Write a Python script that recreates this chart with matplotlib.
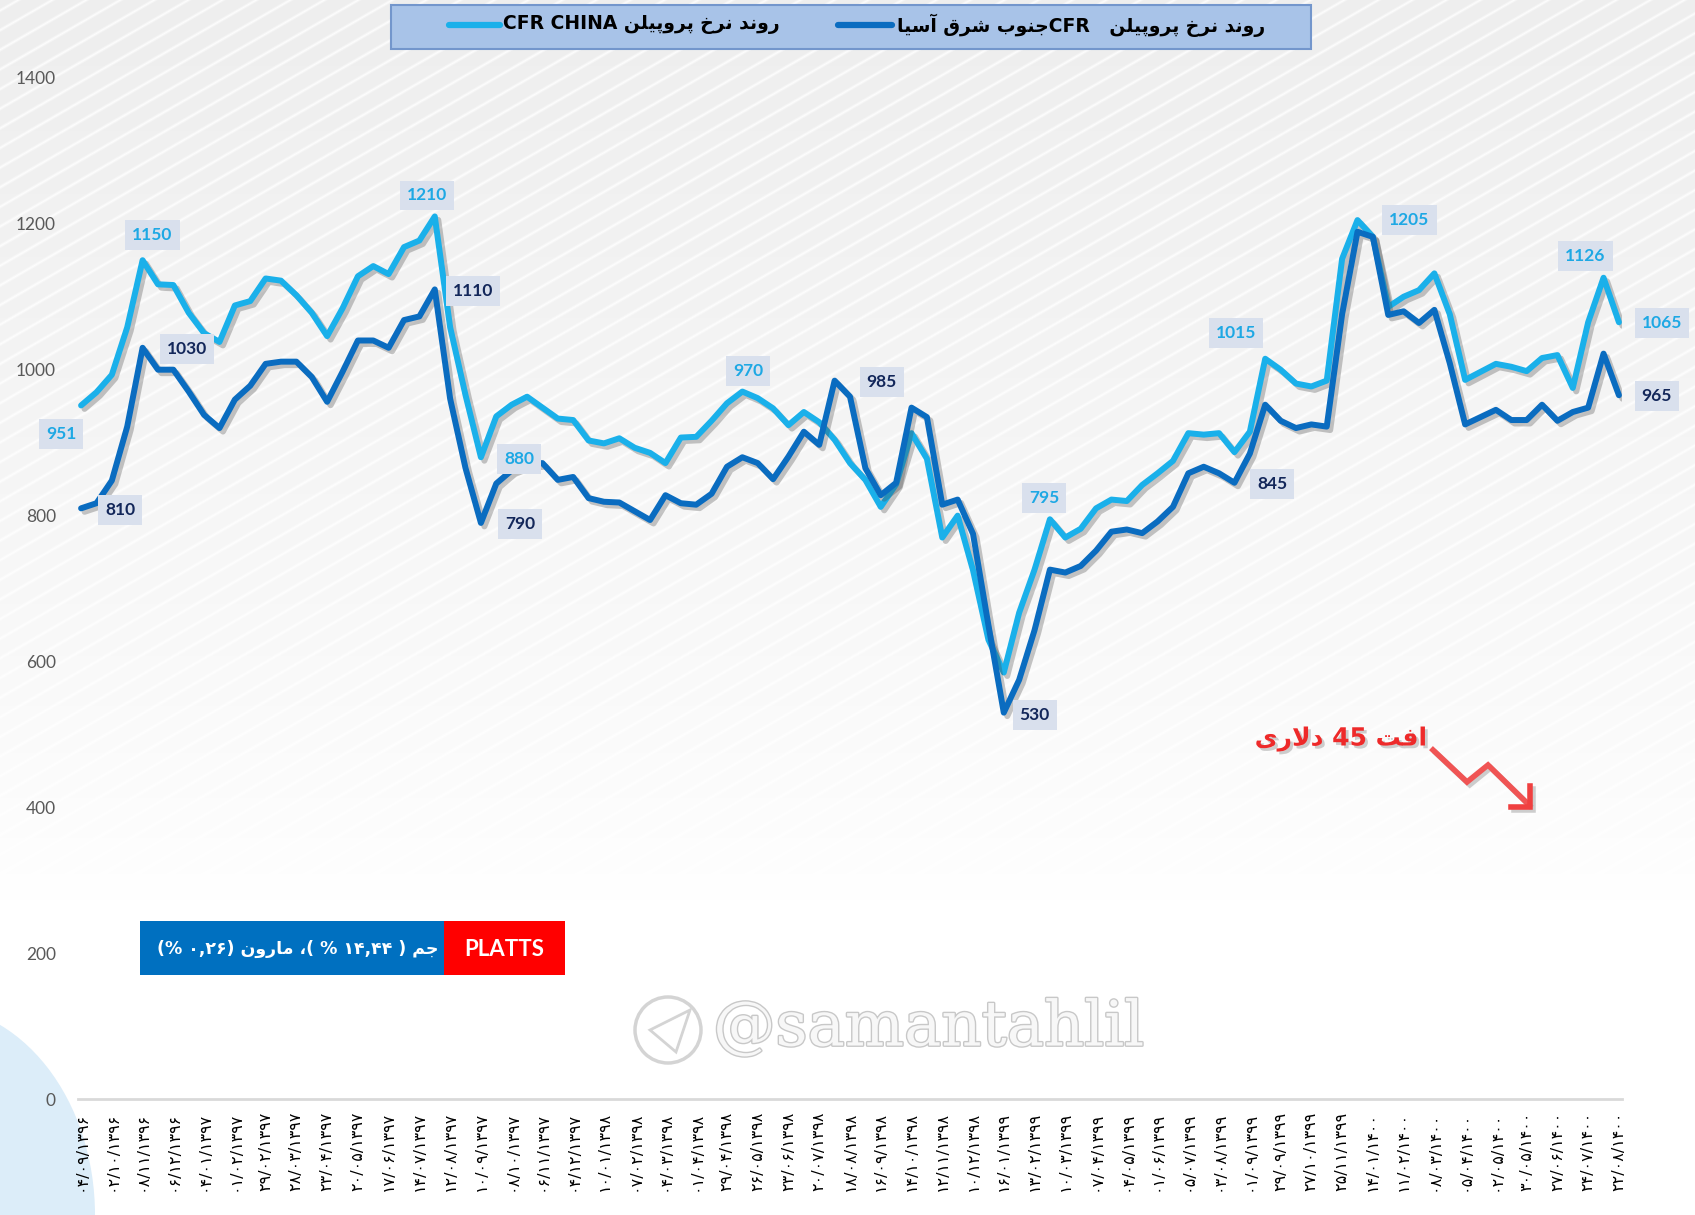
import numpy as np
import matplotlib
matplotlib.use('Agg')
import matplotlib.pyplot as plt
import matplotlib.patheffects as pe
from matplotlib.patches import Rectangle, Circle, Polygon, Ellipse

# data ----------------------------------------------------------------------

# CFR China propylene, USD/t (weekly)
china = [
    951, 969, 993, 1058, 1150, 1117, 1116, 1078, 1050, 1038,
    1088, 1094, 1125, 1122, 1102, 1078, 1046, 1084, 1128, 1142,
    1131, 1168, 1177, 1210, 1058, 965, 880, 936, 952, 963,
    948, 933, 931, 903, 899, 906, 893, 886, 872, 907,
    908, 930, 954, 970, 961, 947, 924, 942, 928, 904,
    872, 849, 812, 843, 913, 878, 770, 800, 725, 630,
    585, 667, 726, 795, 770, 782, 810, 822, 820, 842,
    858, 875, 913, 911, 913, 887, 915, 1015, 1000, 981,
    977, 985, 1152, 1205, 1182, 1086, 1100, 1109, 1132, 1076,
    986, 997, 1008, 1004, 998, 1016, 1020, 975, 1065, 1126,
    1065]

# CFR South-East Asia propylene, USD/t (weekly)
asia = [
    810, 817, 848, 922, 1030, 1000, 1000, 970, 938, 920,
    959, 978, 1008, 1011, 1011, 990, 956, 997, 1040, 1040,
    1030, 1068, 1073, 1110, 960, 865, 790, 844, 862, 870,
    872, 849, 853, 824, 819, 818, 806, 794, 828, 817,
    815, 830, 867, 880, 872, 850, 881, 915, 897, 985,
    963, 865, 828, 845, 948, 935, 815, 822, 775, 650,
    530, 575, 643, 726, 722, 731, 752, 778, 781, 776,
    792, 812, 858, 867, 858, 845, 885, 952, 930, 920,
    925, 922, 1076, 1189, 1182, 1075, 1080, 1064, 1082, 1009,
    925, 935, 945, 931, 931, 952, 930, 942, 948, 1022,
    965]

# one label every second point
dates = [
    "04/09/1396", "02/10/1396", "08/11/1396", "06/12/1396", "04/01/1397",
    "01/02/1397", "29/02/1397", "28/03/1397", "23/04/1397", "20/05/1397",
    "17/06/1397", "14/07/1397", "12/08/1397", "10/09/1397", "08/10/1397",
    "06/11/1397", "04/12/1397", "10/01/1398", "07/02/1398", "04/03/1398",
    "01/04/1398", "29/04/1398", "26/05/1398", "23/06/1398", "20/07/1398",
    "18/08/1398", "16/09/1398", "14/10/1398", "12/11/1398", "10/12/1398",
    "16/01/1399", "13/02/1399", "10/03/1399", "07/04/1399", "04/05/1399",
    "01/06/1399", "05/07/1399", "03/08/1399", "01/09/1399", "29/09/1399",
    "27/10/1399", "25/11/1399", "14/01/1400", "11/02/1400", "08/03/1400",
    "05/04/1400", "02/05/1400", "30/05/1400", "27/06/1400", "24/07/1400",
    "22/08/1400"]

china_name = "روند نرخ پروپیلن CFR CHINA"
asia_name = "روند نرخ پروپیلن   CFRجنوب شرق آسیا"
box_text = "جم ( ۱۴,۴۴ % )، مارون (۰,۲۶ %)"
drop_text = "افت 45 دلاری"

# labelled points: index, offset of the label box in pixels
china_labels = [(0, -20, -29), (4, 10, 25), (23, -8, 21), (26, 38, -2),
                (43, 6, 21), (63, -6, 21), (77, -29, 26), (83, 52, 0),
                (99, -18, 22), (100, 43, -1)]
asia_labels = [(0, 39, -2), (4, 44, -1), (23, 38, -2), (26, 39, -1),
               (49, 47, -1), (60, 31, -2), (75, 38, -1), (100, 38, -1)]

C_CHINA = '#1ab0ea'
C_ASIA = '#0a6cc0'

# persian text helpers --------------------------------------------------------

FORMS = {
    'ا': ('\uFE8D', '\uFE8E', None, None),
    'آ': ('\uFE81', '\uFE82', None, None),
    'ب': ('\uFE8F', '\uFE90', '\uFE91', '\uFE92'),
    'پ': ('\uFB56', '\uFB57', '\uFB58', '\uFB59'),
    'ت': ('\uFE95', '\uFE96', '\uFE97', '\uFE98'),
    'ج': ('\uFE9D', '\uFE9E', '\uFE9F', '\uFEA0'),
    'خ': ('\uFEA5', '\uFEA6', '\uFEA7', '\uFEA8'),
    'د': ('\uFEA9', '\uFEAA', None, None),
    'ر': ('\uFEAD', '\uFEAE', None, None),
    'س': ('\uFEB1', '\uFEB2', '\uFEB3', '\uFEB4'),
    'ش': ('\uFEB5', '\uFEB6', '\uFEB7', '\uFEB8'),
    'ف': ('\uFED1', '\uFED2', '\uFED3', '\uFED4'),
    'ق': ('\uFED5', '\uFED6', '\uFED7', '\uFED8'),
    'ل': ('\uFEDD', '\uFEDE', '\uFEDF', '\uFEE0'),
    'م': ('\uFEE1', '\uFEE2', '\uFEE3', '\uFEE4'),
    'ن': ('\uFEE5', '\uFEE6', '\uFEE7', '\uFEE8'),
    'و': ('\uFEED', '\uFEEE', None, None),
    'ی': ('\uFEEF', '\uFEF0', '\uFEF3', '\uFEF4'),
}
MIRROR = {'(': ')', ')': '('}
FA_DIGITS = str.maketrans('0123456789', '۰۱۲۳۴۵۶۷۸۹')


def shape(s):
    """join arabic letters using presentation forms"""
    out = []
    i = 0
    while i < len(s):
        c = s[i]
        if c not in FORMS:
            out.append(c)
            i += 1
            continue
        prev = s[i - 1] if i > 0 else ''
        joins_prev = prev in FORMS and FORMS[prev][2] is not None
        if c == 'ل' and i + 1 < len(s) and s[i + 1] == 'ا':
            out.append('\uFEFC' if joins_prev else '\uFEFB')
            i += 2
            continue
        nxt = s[i + 1] if i + 1 < len(s) else ''
        joins_next = FORMS[c][2] is not None and nxt in FORMS
        iso, fin, ini, med = FORMS[c]
        if joins_prev and joins_next:
            out.append(med)
        elif joins_prev:
            out.append(fin)
        elif joins_next:
            out.append(ini)
        else:
            out.append(iso)
        i += 1
    return ''.join(out)


def fa(s):
    """shape + simple rtl reordering to visual order"""
    shaped = shape(s)
    kinds = []
    for ch in shaped:
        o = ord(ch)
        if (ch.isascii() and ch.isalnum()) or 0x06F0 <= o <= 0x06F9:
            kinds.append('L')
        elif (0x0600 <= o <= 0x06FF and o != 0x060C) or 0xFB50 <= o <= 0xFDFF or 0xFE70 <= o <= 0xFEFF:
            kinds.append('R')
        else:
            kinds.append('N')
    res = []
    for k, kind in enumerate(kinds):
        if kind != 'N':
            res.append(kind)
            continue
        left = next((kinds[j] for j in range(k - 1, -1, -1) if kinds[j] != 'N'), 'R')
        right = next((kinds[j] for j in range(k + 1, len(kinds)) if kinds[j] != 'N'), 'R')
        res.append('L' if left == right == 'L' else 'R')
    runs = []
    for ch, kind in zip(shaped, res):
        if runs and runs[-1][0] == kind:
            runs[-1][1].append(ch)
        else:
            runs.append([kind, [ch]])
    out = ''
    for kind, chars in reversed(runs):
        if kind == 'R':
            out += ''.join(MIRROR.get(c, c) for c in reversed(chars))
        else:
            out += ''.join(chars)
    return out


# figure ---------------------------------------------------------------------

W, H = 1695, 1215
fig = plt.figure(figsize=(W / 100, H / 100), dpi=100)

# background: gray diagonal stripes fading to white
bg = fig.add_axes([0, 0, 1, 1], zorder=0)
yy, xx = np.mgrid[0:H, 0:W]
fade = np.clip(1 - yy / 900.0, 0, 1) ** 0.8
base = 255 - 17 * fade
s = xx * 0.5 + yy * 0.866
p = 17.0
stripe = np.clip(1 - np.abs((s % p) - p / 2) / 2.2, 0, 1)
grey = base + stripe * (255 - base) * 0.85
img = np.dstack([grey, grey, grey]) / 255.0
bg.imshow(img, extent=(0, W, H, 0), aspect='auto', interpolation='bilinear')
bg.add_patch(Ellipse((-70, 1215), 330, 420, fc='#dcedf9', ec='none'))
bg.set_xlim(0, W)
bg.set_ylim(H, 0)
bg.axis('off')

# main chart
ax = fig.add_axes([78 / W, 1 - 1099.4 / H, (1622 - 78) / W, (1099.4 - 77.8) / H], zorder=2)
ax.patch.set_alpha(0)
x = np.arange(len(china))
shadow = [pe.SimpleLineShadow(offset=(2.5, -2.5), shadow_color='#444444', alpha=0.3), pe.Normal()]
ax.plot(x, china, color=C_CHINA, lw=4.3, solid_joinstyle='round', solid_capstyle='round',
        path_effects=shadow, zorder=3)
ax.plot(x, asia, color=C_ASIA, lw=4.3, solid_joinstyle='round', solid_capstyle='round',
        path_effects=shadow, zorder=4)

ax.set_xlim(-0.2, 100.2)
ax.set_ylim(0, 1400)
ax.set_yticks(range(0, 1401, 200))
ax.set_xticks(range(0, len(china), 2))
ax.set_xticklabels([d.translate(FA_DIGITS) for d in dates], rotation=90,
                   fontsize=11.5, family='DejaVu Sans')
ax.tick_params(axis='x', length=0, pad=9)
ax.tick_params(axis='y', length=0, pad=16, labelcolor='#595959', labelsize=12.5)
for lab in ax.get_yticklabels():
    lab.set_family('Lato')
for side in ['top', 'right', 'left']:
    ax.spines[side].set_visible(False)
ax.spines['bottom'].set_color('#d9d9d9')
ax.spines['bottom'].set_linewidth(2)

# data labels
for series, labels, col in [(china, china_labels, '#1ea8e4'), (asia, asia_labels, '#13275a')]:
    for i, dx, dy in labels:
        ax.annotate(str(series[i]), xy=(i, series[i]), xytext=(dx * 0.72, dy * 0.72),
                    textcoords='offset points', ha='center', va='center',
                    fontsize=12.5, fontweight='bold', color=col, family='Lato',
                    bbox=dict(boxstyle='square,pad=0.4', fc='#d9e0ed', ec='none'), zorder=6)

# overlay in pixel coordinates -------------------------------------------------
ov = fig.add_axes([0, 0, 1, 1], zorder=3)
ov.set_xlim(0, W)
ov.set_ylim(H, 0)
ov.axis('off')

# legend box
ov.add_patch(Rectangle((391, 5), 920, 44, fc='#a8c3e8', ec='#7396cc', lw=1.5))
ov.plot([449, 500], [25, 25], color=C_CHINA, lw=4.5, solid_capstyle='round')
ov.text(503, 25, fa(china_name), ha='left', va='center', fontsize=13.5,
        fontweight='bold', family='DejaVu Sans', color='black')
ov.plot([838, 892], [25, 25], color=C_ASIA, lw=4.5, solid_capstyle='round')
ov.text(897, 25, fa(asia_name), ha='left', va='center', fontsize=13.5,
        fontweight='bold', family='DejaVu Sans', color='black')

# source box
ov.add_patch(Rectangle((140, 921), 304, 54, fc='#0070c0', ec='none'))
ov.add_patch(Rectangle((444, 921), 121, 54, fc='#ff0000', ec='none'))
ov.text(504, 949, 'PLATTS', ha='center', va='center', fontsize=16,
        fontweight='bold', family='Lato', color='white')
ov.text(298, 949, fa(box_text), ha='center', va='center', fontsize=12.5,
        fontweight='bold', family='DejaVu Sans', color='white')

# drop note with zigzag arrow
ov.text(1341, 739, fa(drop_text), ha='center', va='center', fontsize=18,
        fontweight='bold', family='DejaVu Sans', color='#ee2a2a',
        path_effects=[pe.withSimplePatchShadow(offset=(2, -2), shadow_rgbFace='#888888', alpha=0.4)])
arrow_fx = [pe.SimpleLineShadow(offset=(2, -2), shadow_color='#777777', alpha=0.35), pe.Normal()]
ov.plot([1433, 1467, 1488, 1527], [750, 782, 765, 803], color='#f05454', lw=4,
        solid_joinstyle='miter', path_effects=arrow_fx)
ov.plot([1511, 1530, 1530], [807, 807, 786], color='#f04040', lw=4,
        solid_joinstyle='miter', path_effects=arrow_fx)

# watermark
ov.add_patch(Circle((668, 1030), 33, fc='none', ec='#d4d4d4', lw=2.5))
ov.add_patch(Polygon([[650, 1030], [690, 1010], [676, 1052]], closed=True,
                     fc='none', ec='#d4d4d4', lw=2))
ov.text(713, 1028, '@samantahlil', ha='left', va='center', fontsize=45,
        family='DejaVu Serif', color='#f7f7f7',
        path_effects=[pe.withStroke(linewidth=2, foreground='#c8c8c8')])

fig.savefig('out.png', dpi=100)
